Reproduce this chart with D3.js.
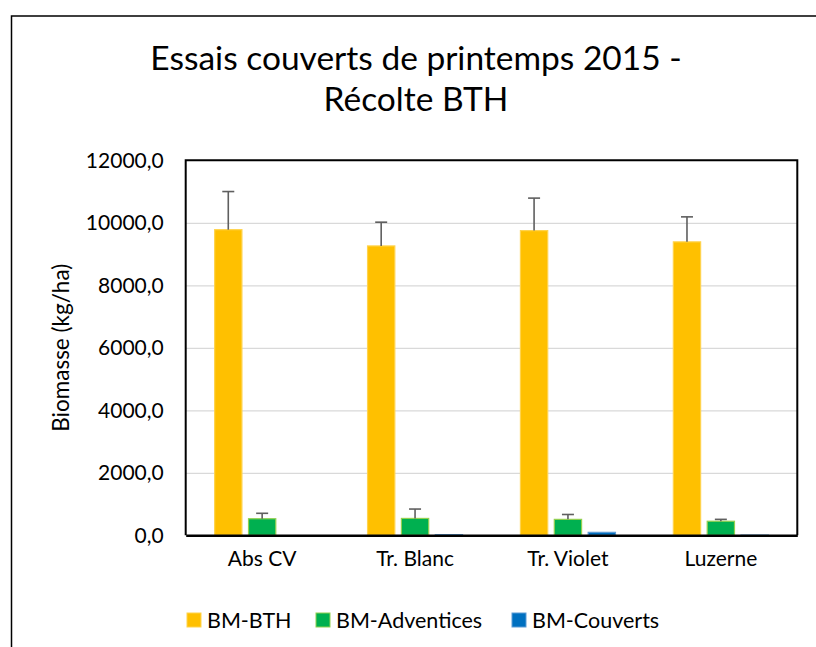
<!DOCTYPE html>
<html>
<head>
<meta charset="utf-8">
<script src="https://cdn.jsdelivr.net/npm/d3@7"></script>
<style>
  html, body { margin: 0; padding: 0; background: #fff; }
  svg { display: block; font-family: Lato, "Open Sans", sans-serif; }
</style>
</head>
<body>
<div id="chart"></div>
<script>
const categories = ["Abs CV", "Tr. Blanc", "Tr. Violet", "Luzerne"];
const seriesNames = ["BM-BTH", "BM-Adventices", "BM-Couverts"];
const bmBTH = [9780, 9260, 9750, 9390];
const bmBTHErr = [1220, 760, 1040, 800];
const bmAdventices = [530, 540, 510, 450];
const bmAdventicesErr = [174, 300, 156, 60];
const bmCouverts = [0, 20, 95, 6];
const bmCouvertsErr = [0, 0, 0, 0];
const yTicks = [0, 2000, 4000, 6000, 8000, 10000, 12000];

const width = 816;
const height = 647;
const marginTop = 160.3;
const marginBottom = 647 - 535.3;
const marginLeft = 185.7;
const marginRight = 816 - 797.3;

const fills = ["#FFC000", "#00B050", "#0070C0"];
const strokes = ["#FFD34D", "#92D050", "#5B9BD5"];

const seriesValues = [bmBTH, bmAdventices, bmCouverts];
const seriesErrors = [bmBTHErr, bmAdventicesErr, bmCouvertsErr];
const data = categories.map((c, i) => ({
    cat: c,
    bars: seriesNames.map((s, j) => ({key: s, idx: j, value: seriesValues[j][i], err: seriesErrors[j][i]}))
}));

const fr = d3.formatLocale({decimal: ",", thousands: "", grouping: [3], currency: ["", " €"]});
const fmt = fr.format(".1f");

const x0 = d3.scaleBand()
    .domain(categories)
    .range([marginLeft, width - marginRight]);
const groupPad = x0.bandwidth() * 0.186;
const x1 = d3.scaleBand()
    .domain(seriesNames)
    .range([groupPad, x0.bandwidth() - groupPad])
    .paddingInner(0.165);
const y = d3.scaleLinear()
    .domain([0, 12000])
    .range([height - marginBottom, marginTop]);

const svg = d3.create("svg")
    .attr("width", width)
    .attr("height", height)
    .attr("viewBox", [0, 0, width, height]);

svg.append("rect")
    .attr("x", 11.5)
    .attr("y", 16)
    .attr("width", 900)
    .attr("height", 700)
    .attr("fill", "#fff")
    .attr("stroke", "#000")
    .attr("stroke-width", 1.5);

svg.append("text")
    .attr("x", 416)
    .attr("text-anchor", "middle")
    .attr("font-size", 33.5)
    .attr("fill", "#000")
    .call(t => t.append("tspan").attr("x", 416).attr("y", 69.5).text("Essais couverts de printemps 2015 -"))
    .call(t => t.append("tspan").attr("x", 416).attr("y", 110.7).text("Récolte BTH"));

svg.append("g")
    .attr("transform", `translate(${marginLeft},0)`)
    .call(d3.axisLeft(y).tickValues(yTicks).tickFormat(fmt).tickSize(0).tickPadding(22))
    .call(g => g.select(".domain").remove())
    .call(g => g.selectAll(".tick text")
        .attr("font-size", 21)
        .attr("font-family", "Lato, sans-serif")
        .attr("fill", "#000"))
    .call(g => g.selectAll(".tick").filter(d => d > 0 && d < 12000).append("line")
        .attr("x2", width - marginRight - marginLeft)
        .attr("stroke", "#D9D9D9")
        .attr("stroke-width", 1.3));

svg.append("text")
    .attr("transform", `translate(69,${(marginTop + height - marginBottom) / 2}) rotate(-90)`)
    .attr("text-anchor", "middle")
    .attr("font-size", 22.5)
    .attr("fill", "#000")
    .text("Biomasse (kg/ha)");

const groups = svg.append("g")
    .selectAll("g")
    .data(data)
    .join("g")
    .attr("transform", d => `translate(${x0(d.cat)},0)`);

groups.selectAll("rect")
    .data(d => d.bars)
    .join("rect")
    .attr("x", d => x1(d.key) + 0.5)
    .attr("y", d => y(d.value))
    .attr("width", x1.bandwidth() - 1)
    .attr("height", d => y(0) - y(d.value))
    .attr("fill", d => fills[d.idx])
    .attr("stroke", d => strokes[d.idx])
    .attr("stroke-width", d => d.value > 0 ? 1.2 : 0);

const errs = groups.selectAll("g.err")
    .data(d => d.bars.filter(b => b.err > 0))
    .join("g")
    .attr("class", "err")
    .attr("stroke", "#5F5F5F")
    .attr("stroke-width", 1.6);
errs.append("line")
    .attr("x1", d => x1(d.key) + x1.bandwidth() / 2)
    .attr("x2", d => x1(d.key) + x1.bandwidth() / 2)
    .attr("y1", d => y(d.value))
    .attr("y2", d => y(d.value + d.err));
errs.append("line")
    .attr("x1", d => x1(d.key) + x1.bandwidth() / 2 - 6)
    .attr("x2", d => x1(d.key) + x1.bandwidth() / 2 + 6)
    .attr("y1", d => y(d.value + d.err))
    .attr("y2", d => y(d.value + d.err));

svg.append("path")
    .attr("d", `M${marginLeft},${height - marginBottom}V${marginTop}H${width - marginRight}V${height - marginBottom}`)
    .attr("fill", "none")
    .attr("stroke", "#000")
    .attr("stroke-width", 2);

svg.append("g")
    .attr("transform", `translate(0,${height - marginBottom})`)
    .call(d3.axisBottom(x0).tickSize(0).tickPadding(16))
    .call(g => g.select(".domain")
        .attr("stroke", "#000")
        .attr("stroke-width", 2.6))
    .call(g => g.selectAll(".tick text")
        .attr("font-size", 21)
        .attr("font-family", "Lato, sans-serif")
        .attr("fill", "#000"));

const legendX = [187, 316, 512];
const legend = svg.append("g")
    .selectAll("g")
    .data(seriesNames)
    .join("g")
    .attr("transform", (d, i) => `translate(${legendX[i]},613)`);
legend.append("rect")
    .attr("width", 14)
    .attr("height", 14)
    .attr("fill", (d, i) => fills[i])
    .attr("stroke", (d, i) => strokes[i])
    .attr("stroke-width", 1);
legend.append("text")
    .attr("x", 20)
    .attr("y", 7)
    .attr("dy", "0.35em")
    .attr("font-size", 21.5)
    .attr("fill", "#000")
    .text(d => d);

document.getElementById("chart").appendChild(svg.node());
</script>
</body>
</html>
